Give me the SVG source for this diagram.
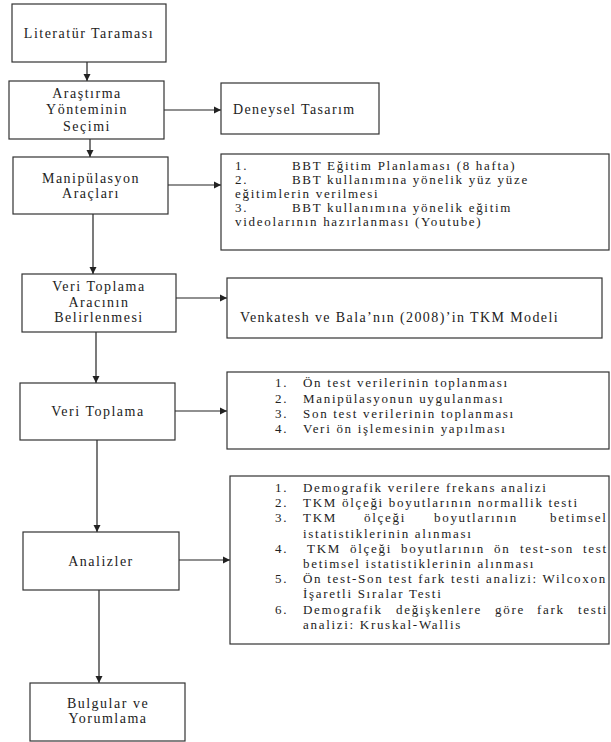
<svg xmlns="http://www.w3.org/2000/svg" width="611" height="742" viewBox="0 0 611 742">
<defs>
<style>
.box{fill:#fff;stroke:#333;stroke-width:1.2}
.lt{font-family:"Liberation Serif","Times New Roman",serif;font-size:14px;letter-spacing:1.5px;fill:#222;text-anchor:middle}
.rt{font-family:"Liberation Serif","Times New Roman",serif;font-size:14px;letter-spacing:1.4px;fill:#222}
.ls{font-family:"Liberation Serif","Times New Roman",serif;font-size:13px;letter-spacing:1.7px;fill:#222}
.con{stroke:#222;stroke-width:1.2;fill:none;marker-end:url(#ah)}
</style>
<marker id="ah" markerWidth="8" markerHeight="8" refX="7" refY="4" orient="auto" markerUnits="userSpaceOnUse">
<path d="M0,0.5 L7,4 L0,7.5 Z" fill="#222"/>
</marker>
</defs>
<rect width="611" height="742" fill="#fff"/>

<g id="connectors">
<line class="con" x1="87" y1="62" x2="87" y2="81"/>
<line class="con" x1="164" y1="110" x2="221" y2="110"/>
<line class="con" x1="90" y1="139" x2="90" y2="157"/>
<line class="con" x1="168" y1="185" x2="221" y2="185"/>
<line class="con" x1="93" y1="214" x2="93" y2="274"/>
<line class="con" x1="176" y1="298" x2="227" y2="298"/>
<line class="con" x1="96" y1="332" x2="96" y2="383"/>
<line class="con" x1="175" y1="411" x2="227" y2="411"/>
<line class="con" x1="97" y1="440" x2="97" y2="532"/>
<line class="con" x1="179" y1="560" x2="230" y2="560"/>
<line class="con" x1="99" y1="590" x2="99" y2="683"/>
</g>

<g id="literatur">
<rect class="box" x="12" y="4" width="154" height="58"/>
<text class="lt" x="89" y="38">Literatür Taraması</text>
</g>

<g id="arastirma">
<rect class="box" x="9" y="81" width="155" height="58"/>
<text class="lt" x="87" y="98">Araştırma</text>
<text class="lt" x="87" y="114">Yönteminin</text>
<text class="lt" x="87" y="131">Seçimi</text>
</g>

<g id="deneysel">
<rect class="box" x="221" y="83" width="158" height="51"/>
<text class="rt" x="233" y="114">Deneysel Tasarım</text>
</g>

<g id="manipulasyon">
<rect class="box" x="13" y="157" width="155" height="57"/>
<text class="lt" x="91" y="183">Manipülasyon</text>
<text class="lt" x="91" y="198">Araçları</text>
</g>

<g id="bbt">
<rect class="box" x="221" y="154" width="388" height="96"/>
<text class="ls" x="235" y="170">1.</text>
<text class="ls" x="292" y="170">BBT Eğitim Planlaması (8 hafta)</text>
<text class="ls" x="235" y="184">2.</text>
<text class="ls" x="292" y="184">BBT kullanımına yönelik yüz yüze</text>
<text class="ls" x="235" y="198">eğitimlerin verilmesi</text>
<text class="ls" x="235" y="212">3.</text>
<text class="ls" x="292" y="212">BBT kullanımına yönelik eğitim</text>
<text class="ls" x="235" y="226">videolarının hazırlanması (Youtube)</text>
</g>

<g id="veri-araci">
<rect class="box" x="22" y="274" width="154" height="58"/>
<text class="lt" x="99" y="291">Veri Toplama</text>
<text class="lt" x="99" y="307">Aracının</text>
<text class="lt" x="99" y="322">Belirlenmesi</text>
</g>

<g id="venkatesh">
<rect class="box" x="227" y="278" width="375" height="60"/>
<text class="rt" x="240" y="322" textLength="319">Venkatesh ve Bala’nın (2008)’in TKM Modeli</text>
</g>

<g id="veri-toplama">
<rect class="box" x="20" y="383" width="155" height="57"/>
<text class="lt" x="98" y="416">Veri Toplama</text>
</g>

<g id="veri-liste">
<rect class="box" x="227" y="372" width="382" height="77"/>
<text class="ls" x="275" y="387">1.</text>
<text class="ls" x="303" y="387">Ön test verilerinin toplanması</text>
<text class="ls" x="275" y="403">2.</text>
<text class="ls" x="303" y="403">Manipülasyonun uygulanması</text>
<text class="ls" x="275" y="418">3.</text>
<text class="ls" x="303" y="418">Son test verilerinin toplanması</text>
<text class="ls" x="275" y="433">4.</text>
<text class="ls" x="303" y="433">Veri ön işlemesinin yapılması</text>
</g>

<g id="analizler">
<rect class="box" x="23" y="532" width="156" height="58"/>
<text class="lt" x="101" y="566">Analizler</text>
</g>

<g id="analiz-liste">
<rect class="box" x="230" y="476" width="379" height="168"/>
<text class="ls" x="275" y="492">1.</text>
<text class="ls" x="303" y="492">Demografik verilere frekans analizi</text>
<text class="ls" x="275" y="507">2.</text>
<text class="ls" x="303" y="507">TKM ölçeği boyutlarının normallik testi</text>
<text class="ls" x="275" y="522">3.</text>
<text class="ls" y="522"><tspan x="303">TKM</tspan><tspan x="364">ölçeği</tspan><tspan x="434">boyutlarının</tspan><tspan x="550">betimsel</tspan></text>
<text class="ls" x="303" y="538">istatistiklerinin alınması</text>
<text class="ls" x="275" y="553">4.</text>
<text class="ls" y="553"><tspan x="307">TKM</tspan><tspan x="350">ölçeği</tspan><tspan x="401">boyutlarının</tspan><tspan x="494">ön</tspan><tspan x="520">test-son</tspan><tspan x="583">test</tspan></text>
<text class="ls" x="303" y="568">betimsel istatistiklerinin alınması</text>
<text class="ls" x="275" y="583">5.</text>
<text class="ls" x="303" y="583">Ön test-Son test fark testi analizi: Wilcoxon</text>
<text class="ls" x="303" y="598">İşaretli Sıralar Testi</text>
<text class="ls" x="275" y="614">6.</text>
<text class="ls" y="614"><tspan x="303">Demografik</tspan><tspan x="396">değişkenlere</tspan><tspan x="495">göre</tspan><tspan x="537">fark</tspan><tspan x="578">testi</tspan></text>
<text class="ls" x="303" y="629">analizi: Kruskal-Wallis</text>
</g>

<g id="bulgular">
<rect class="box" x="30" y="683" width="155" height="58"/>
<text class="lt" x="108" y="708">Bulgular ve</text>
<text class="lt" x="108" y="723">Yorumlama</text>
</g>
</svg>
